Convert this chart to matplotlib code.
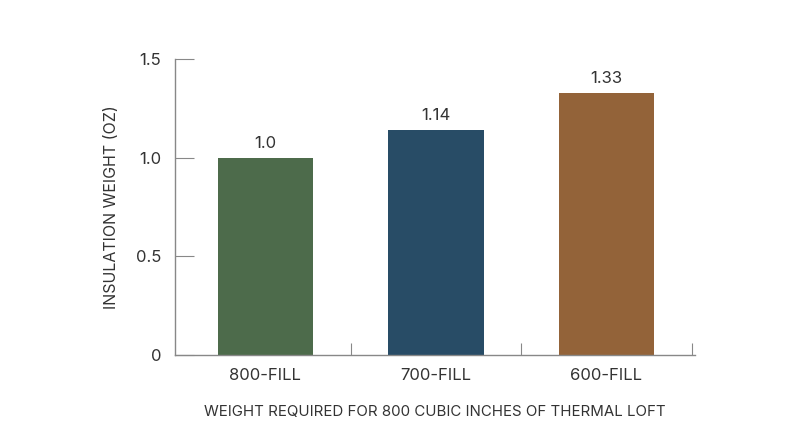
import matplotlib.pyplot as plt
import numpy as np

fills = ['800-FILL', '700-FILL', '600-FILL']
weights = [1.0, 1.14, 1.33]
value_labels = ['1.0', '1.14', '1.33']
bar_colors = ['#4d6b4b', '#284c66', '#936339']

plt.rcParams['font.family'] = ['Inter', 'DejaVu Sans']

fig = plt.figure(figsize=(8, 4.47), dpi=100)
ax = fig.add_axes([0.21875, 0.2058, 0.65, 0.662])

x = np.arange(len(fills))
bars = ax.bar(x, weights, width=0.56, color=bar_colors)
for b, lbl in zip(bars, value_labels):
    ax.text(b.get_x() + b.get_width() / 2, b.get_height() + 0.035, lbl,
            ha='center', va='bottom', fontsize=12, color='#333333')

ax.set_xlim(-0.53, 2.52)
ax.set_ylim(0, 1.5)
ax.set_yticks([0, 0.5, 1.0, 1.5])
ax.set_yticklabels(['0', '0.5', '1.0', '1.5'])

# category labels centred on bars, tick marks at the boundaries
ax.set_xticks([0.5, 1.5, 2.5])
ax.set_xticklabels([])
ax.set_xticks(x, minor=True)
ax.set_xticklabels(fills, minor=True)
ax.tick_params(axis='x', which='minor', length=0, pad=9, labelsize=12, labelcolor='#333333')
ax.tick_params(axis='x', which='major', direction='in', length=9, color='#888888')
ax.tick_params(axis='y', direction='in', length=14, color='#888888', pad=10,
               labelsize=12, labelcolor='#333333')

for s in ['top', 'right']:
    ax.spines[s].set_visible(False)
for s in ['left', 'bottom']:
    ax.spines[s].set_color('#888888')
    ax.spines[s].set_linewidth(1)

ax.set_ylabel('INSULATION WEIGHT (OZ)', fontsize=11.5, color='#333333', labelpad=12)
ax.set_xlabel('WEIGHT REQUIRED FOR 800 CUBIC INCHES OF THERMAL LOFT',
              fontsize=10.8, color='#333333', labelpad=16)

fig.savefig('out.png', dpi=100)
